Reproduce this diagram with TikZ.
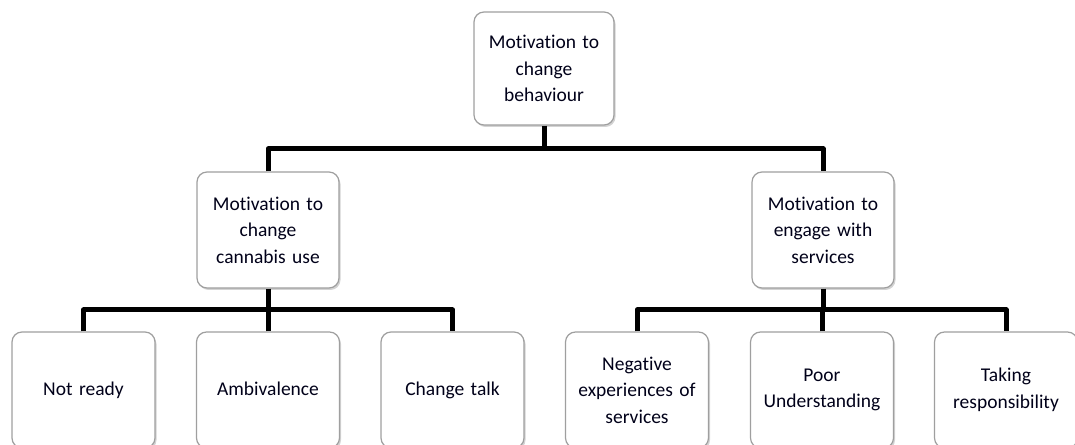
\documentclass[tikz,border=0pt]{standalone}
\usepackage{fontspec}
\setmainfont[Ligatures=NoCommon]{Carlito}
\usetikzlibrary{shadows}
\begin{document}
\begin{tikzpicture}[x=1pt,y=1pt,
  box/.style={draw=gray!75, line width=1.2pt, rounded corners=10pt, fill=white,
    minimum width=#1, text width=134pt, align=center, inner sep=0pt,
    font=\fontsize{19.5}{26.5}\selectfont, text=black!90!blue,
    drop shadow={shadow xshift=1.5pt, shadow yshift=-2pt, opacity=0.35, fill=gray}},
  box/.default=142pt,
  conn/.style={line width=5pt, line join=round, black}]
\useasboundingbox (0,0) rectangle (1075,444);
\node[box=140pt, minimum height=113pt] (top) at (544,375.5) {Motivation to\\change\\behaviour};
\node[box, minimum height=116pt] (ml) at (268,214) {Motivation to\\change\\cannabis use};
\node[box, minimum height=116pt] (mr) at (823,214) {Motivation to\\engage with\\services};
\node[box=143pt, minimum height=116pt] (b1) at (83.5,54) {\strut Not ready};
\node[box=143pt, minimum height=116pt] (b2) at (268,54) {\strut Ambivalence};
\node[box=143pt, minimum height=116pt] (b3) at (452.5,54) {\strut Change talk};
\node[box=143pt, minimum height=116pt] (b4) at (637,54) {Negative\\experiences of\\services};
\node[box=143pt, minimum height=116pt] (b5) at (822,54) {Poor\\Understanding};
\node[box=143pt, minimum height=116pt] (b6) at (1006,54) {Taking\\responsibility};
\coordinate (l1) at (0,295);
\coordinate (l2) at (0,134);
\draw[conn] (top.south) -- (top.south |- l1);
\draw[conn] (ml.north) |- (top.south |- l1) -| (mr.north);
\draw[conn] (ml.south) -- (ml.south |- l2);
\draw[conn] (b1.north) |- (ml.south |- l2) -| (b3.north);
\draw[conn] (b2.north) -- (b2.north |- l2);
\draw[conn] (mr.south) -- (mr.south |- l2);
\draw[conn] (b4.north) |- (mr.south |- l2) -| (b6.north);
\draw[conn] (b5.north) -- (b5.north |- l2);
\end{tikzpicture}
\end{document}
